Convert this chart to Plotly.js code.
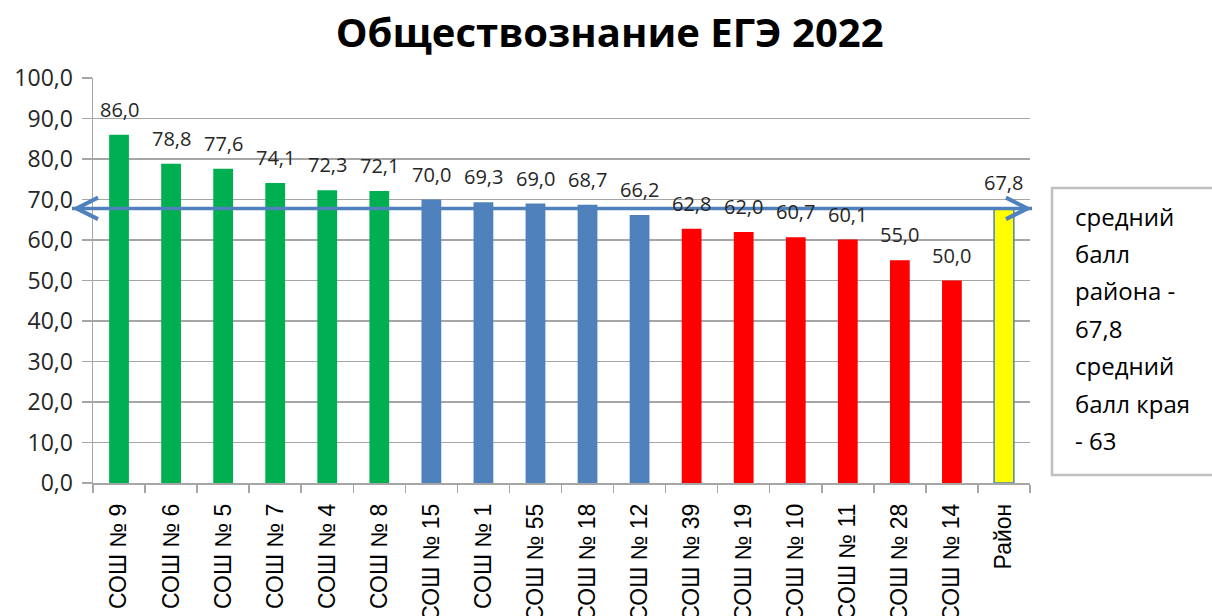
<!DOCTYPE html>
<html>
<head>
<meta charset="utf-8">
<script src="https://cdn.plot.ly/plotly-3.0.1.min.js"></script>
<style>html,body{margin:0;padding:0;background:#fff;}#chart{width:1212px;height:616px;}</style>
</head>
<body>
<div id="chart"></div>
<script>
var categories = ["СОШ № 9","СОШ № 6","СОШ № 5","СОШ № 7","СОШ № 4","СОШ № 8","СОШ № 15","СОШ № 1","СОШ № 55","СОШ № 18","СОШ № 12","СОШ № 39","СОШ № 19","СОШ № 10","СОШ № 11","СОШ № 28","СОШ № 14","Район"];
var scores = [86.0,78.8,77.6,74.1,72.3,72.1,70.0,69.3,69.0,68.7,66.2,62.8,62.0,60.7,60.1,55.0,50.0,67.8];
var groups = ["high","high","high","high","high","high","mid","mid","mid","mid","mid","low","low","low","low","low","low","district"];
var districtAverage = 67.8;
var noteLines = ["средний","балл","района -","67,8","средний","балл края","- 63"];
var yTicks = [0,10,20,30,40,50,60,70,80,90,100];

var groupColors = {high:"#00B050", mid:"#4F81BD", low:"#FF0000", district:"#FFFF00"};
var barColors = groups.map(function(g){return groupColors[g];});
var lineColors = groups.map(function(g){return g==="district" ? "#4F81BD" : groupColors[g];});
var lineWidths = groups.map(function(g){return g==="district" ? 1.5 : 0;});

var fmt = function(v){return v.toFixed(1).replace(".", ",");};

// arrow ends in paper fractions (plot spans x 93..1030 px)
var arrowLeft = (72-93)/937, arrowRight = (1032-93)/937;

var annotations = [];
categories.forEach(function(c,i){
  annotations.push({
    x: i, y: scores[i], xref:"x", yref:"y",
    text: fmt(scores[i]), showarrow:false,
    yanchor:"bottom", yshift: 10,
    font:{family:"Open Sans, sans-serif", size:20, color:"#262626"}
  });
});
// arrow heads at both ends of the district-average line
[[arrowRight,-25],[arrowLeft,25]].forEach(function(p){
  annotations.push({
    x: p[0], y: districtAverage, xref:"paper", yref:"y",
    ax: p[1], ay: 0, axref:"pixel", ayref:"pixel",
    text:" ", showarrow:true,
    arrowhead:5, arrowsize:1.4, arrowwidth:3, arrowcolor:"#4F81BD", standoff:0
  });
});
noteLines.forEach(function(t,i){
  annotations.push({
    x: 1.0459, xref:"paper", xanchor:"left",
    y: (483 - (216 + 37.4*i))/405, yref:"paper", yanchor:"middle",
    text: t, showarrow:false,
    font:{family:"Open Sans, sans-serif", size:24, color:"#000000"}
  });
});

var trace = {
  type:"bar",
  x: categories,
  y: scores,
  width: 0.38,
  marker:{color: barColors, line:{color: lineColors, width: lineWidths}},
  hoverinfo:"x+y"
};

var layout = {
  width:1212, height:616,
  paper_bgcolor:"#ffffff", plot_bgcolor:"#ffffff",
  margin:{l:93, r:182, t:78, b:133, autoexpand:false},
  separators:", ",
  showlegend:false,
  title:{
    text:"<b>Обществознание ЕГЭ 2022</b>",
    x:0.503, xref:"container", xanchor:"center",
    y:1-33/616, yref:"container", yanchor:"middle",
    font:{family:"Open Sans, sans-serif", size:40, color:"#000000"}
  },
  xaxis:{
    type:"category",
    range:[-0.5,17.5],
    showline:true, linecolor:"#A6A6A6", linewidth:1.5,
    ticks:"outside", tickson:"boundaries", ticklen:8, tickcolor:"#A6A6A6", tickwidth:1.5,
    tickangle:-90,
    showgrid:false,
    automargin:false,
    ticklabelstandoff:10,
    tickfont:{family:"Liberation Sans, Arial, sans-serif", size:23, color:"#000000"}
  },
  yaxis:{
    range:[0,100],
    tickvals: yTicks,
    ticktext: yTicks.map(fmt),
    showline:true, linecolor:"#A6A6A6", linewidth:1.5,
    ticks:"outside", ticklen:10, tickcolor:"#A6A6A6", tickwidth:1.5,
    showgrid:true, gridcolor:"#A6A6A6", gridwidth:1.5,
    zeroline:false,
    automargin:false,
    ticklabelstandoff:4,
    tickfont:{family:"Open Sans, sans-serif", size:23, color:"#262626"}
  },
  shapes:[{
    type:"rect", xref:"paper", yref:"paper",
    x0:1.0235, x1:1.2, y0:(483-475)/405, y1:(483-188)/405,
    line:{color:"#BFBFBF", width:2.5}, fillcolor:"rgba(0,0,0,0)"
  },{
    type:"line", xref:"paper", yref:"y",
    x0:arrowLeft, x1:arrowRight, y0:districtAverage, y1:districtAverage,
    line:{color:"#4F81BD", width:3.5}
  }],
  annotations: annotations
};

Plotly.newPlot("chart",[trace],layout,{displayModeBar:false, staticPlot:true});
</script>
</body>
</html>
